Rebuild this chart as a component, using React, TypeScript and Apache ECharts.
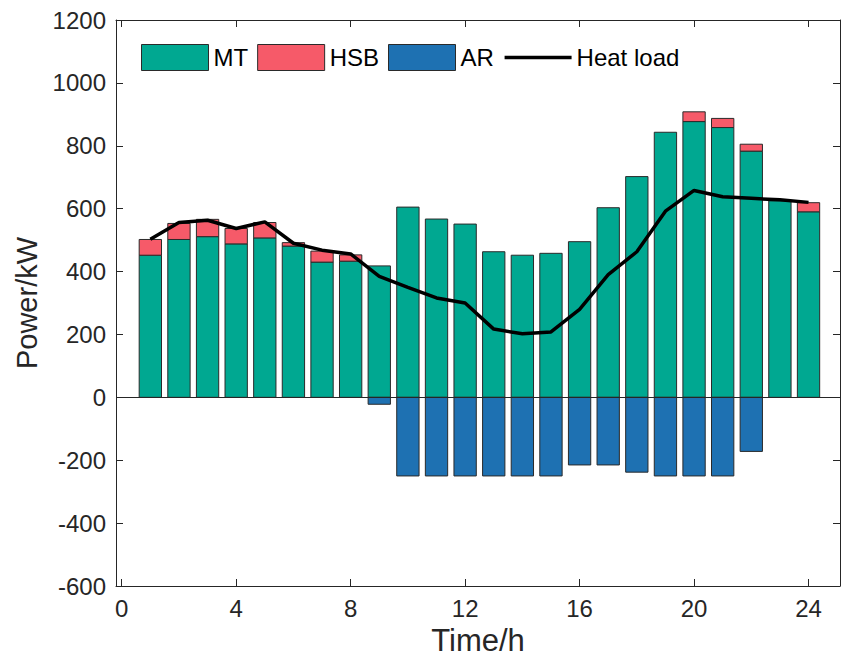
import React, { useEffect, useRef } from "react";
import * as echarts from "echarts";

const hours = [1, 2, 3, 4, 5, 6, 7, 8, 9, 10, 11, 12, 13, 14, 15, 16, 17, 18, 19, 20, 21, 22, 23, 24];
const mtValues = [452, 502, 511, 488, 507, 481, 430, 433, 418, 605, 567, 551, 463, 452, 458, 495, 603, 702, 843, 877, 858, 783, 625, 590];
const hsbValues = [50, 51, 55, 49, 49, 11, 35, 20, 0, 0, 0, 0, 0, 0, 0, 0, 0, 0, 0, 31, 29, 22, 0, 29];
const arValues = [0, 0, 0, 0, 0, 0, 0, 0, -22, -250, -250, -250, -250, -250, -250, -215, -215, -238, -250, -250, -250, -172, 0, 0];
const heatLoad = [503, 556, 563, 537, 558, 490, 468, 456, 385, 350, 316, 300, 217, 202, 208, 280, 390, 463, 592, 658, 638, 633, 628, 620];
const xTicks = [0, 4, 8, 12, 16, 20, 24];

const FONT = "'Liberation Sans', Arial, Helvetica, sans-serif";
const AXIS_COLOR = "#262626";
const BAR_WIDTH = 0.78; // in hours
const MT_COLOR = "#00A891";
const HSB_COLOR = "#F65A69";
const AR_COLOR = "#1E71B2";
const EDGE = "#2a2a2a";

// [hour, low, high]
const mtData = hours.map((h, i) => [h, 0, mtValues[i]]);
const hsbData = hours
  .map((h, i) => [h, mtValues[i], mtValues[i] + hsbValues[i], hsbValues[i]])
  .filter((d) => d[3] !== 0)
  .map((d) => [d[0], d[1], d[2]]);
const arData = hours
  .map((h, i) => [h, arValues[i], 0])
  .filter((d) => d[1] !== 0);

const makeRender = (color: string) => (params: any, api: any) => {
  const x = api.value(0);
  const lo = api.value(1);
  const hi = api.value(2);
  const p1 = api.coord([x - BAR_WIDTH / 2, hi]);
  const p2 = api.coord([x + BAR_WIDTH / 2, lo]);
  return {
    type: "rect",
    shape: { x: p1[0], y: p1[1], width: p2[0] - p1[0], height: p2[1] - p1[1] },
    style: { fill: color, stroke: EDGE, lineWidth: 1 },
  };
};

export default function App() {
  const ref = useRef<HTMLDivElement>(null);
  useEffect(() => {
    if (!ref.current) return;
    const chart = echarts.init(ref.current, null, { renderer: "svg" });
    const barSeries = (name: string, data: number[][], color: string) => ({
      type: "custom" as const,
      name,
      data,
      renderItem: makeRender(color),
      encode: { x: 0, y: [1, 2] },
      itemStyle: { color, borderColor: EDGE, borderWidth: 1 },
      emphasis: { disabled: true },
      silent: true,
      z: 2,
    });
    chart.setOption({
      animation: false,
      backgroundColor: "#ffffff",
      textStyle: { fontFamily: FONT },
      grid: { left: 116, right: 1, top: 20, bottom: 82, containLabel: false },
      legend: {
        left: 141,
        top: 44,
        padding: 0,
        itemWidth: 67,
        itemHeight: 26,
        itemGap: 9,
        selectedMode: false,
        textStyle: { fontSize: 24, color: "#000", fontFamily: FONT },
        data: [
          { name: "MT", icon: "rect", itemStyle: { color: MT_COLOR, borderColor: EDGE, borderWidth: 1 } },
          { name: "HSB", icon: "rect", itemStyle: { color: HSB_COLOR, borderColor: EDGE, borderWidth: 1 } },
          { name: "AR", icon: "rect", itemStyle: { color: AR_COLOR, borderColor: EDGE, borderWidth: 1 } },
          { name: "Heat load", itemStyle: { opacity: 0 }, lineStyle: { color: "#000", width: 3.5 } },
        ],
      },
      xAxis: [
        {
          type: "value",
          min: -0.2,
          max: 25.1,
          name: "Time/h",
          nameLocation: "middle",
          nameGap: 25,
          nameTextStyle: { fontSize: 31, color: AXIS_COLOR, fontFamily: FONT },
          axisLine: { show: true, onZero: false, lineStyle: { color: AXIS_COLOR, width: 1 } },
          axisTick: { show: true, inside: true, length: 7, customValues: xTicks, lineStyle: { color: AXIS_COLOR } },
          axisLabel: { show: true, customValues: xTicks, fontSize: 24, color: AXIS_COLOR, margin: 10, fontFamily: FONT },
          splitLine: { show: false },
        },
        {
          type: "value",
          position: "top",
          min: -0.2,
          max: 25.1,
          axisLine: { show: true, onZero: false, lineStyle: { color: AXIS_COLOR, width: 1 } },
          axisTick: { show: true, inside: true, length: 7, customValues: xTicks, lineStyle: { color: AXIS_COLOR } },
          axisLabel: { show: false },
          splitLine: { show: false },
        },
      ],
      yAxis: [
        {
          type: "value",
          min: -600,
          max: 1200,
          interval: 200,
          name: "Power/kW",
          nameLocation: "middle",
          nameGap: 67,
          nameTextStyle: { fontSize: 29, color: AXIS_COLOR, fontFamily: FONT },
          axisLine: { show: true, onZero: false, lineStyle: { color: AXIS_COLOR, width: 1 } },
          axisTick: { show: true, inside: true, length: 7, lineStyle: { color: AXIS_COLOR } },
          axisLabel: {
            fontSize: 24,
            color: AXIS_COLOR,
            margin: 10,
            fontFamily: FONT,
            formatter: (v: number) => String(v),
          },
          splitLine: { show: false },
        },
        {
          type: "value",
          position: "right",
          min: -600,
          max: 1200,
          interval: 200,
          axisLine: { show: true, onZero: false, lineStyle: { color: AXIS_COLOR, width: 1 } },
          axisTick: { show: true, inside: true, length: 7, lineStyle: { color: AXIS_COLOR } },
          axisLabel: { show: false },
          splitLine: { show: false },
        },
      ],
      series: [
        barSeries("MT", mtData, MT_COLOR),
        barSeries("HSB", hsbData, HSB_COLOR),
        barSeries("AR", arData, AR_COLOR),
        {
          type: "line",
          name: "Heat load",
          data: hours.map((h, i) => [h, heatLoad[i]]),
          symbol: "none",
          showSymbol: false,
          z: 5,
          silent: true,
          lineStyle: { color: "#000", width: 3.5 },
          itemStyle: { color: "#000" },
          emphasis: { disabled: true },
          markLine: {
            silent: true,
            symbol: "none",
            label: { show: false },
            lineStyle: { color: AXIS_COLOR, width: 1, type: "solid" },
            data: [{ yAxis: 0 }],
          },
        },
      ],
    });
    return () => chart.dispose();
  }, []);
  return (
    <div
      ref={ref}
      style={{ position: "fixed", left: 0, top: 0, width: 841, height: 668, background: "#fff" }}
    />
  );
}
